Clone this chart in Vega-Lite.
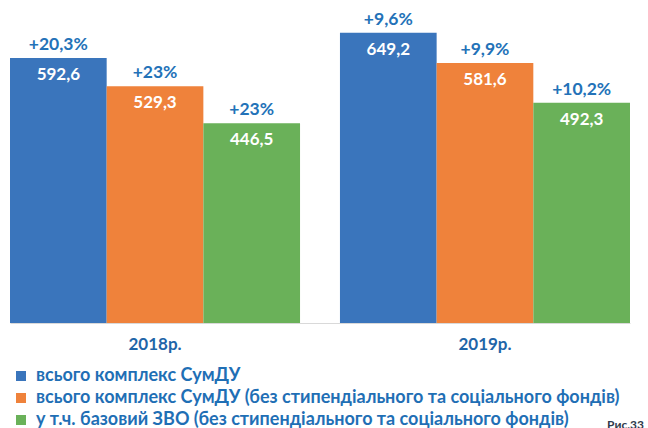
{
  "$schema": "https://vega.github.io/schema/vega-lite/v6.json",
  "width": 620,
  "height": 313,
  "autosize": {"type": "none"},
  "padding": {"left": 10, "top": 10, "right": 18, "bottom": 105},
  "background": "white",
  "config": {"view": {"stroke": null}, "font": "Lato"},
  "title": {"text": "Рис.33", "orient": "bottom", "anchor": "end", "fontSize": 12, "fontWeight": "bold", "color": "#2F3B4C", "offset": -9, "dx": 14, "font": "Lato"},
  "data": {"values": [
    {"year": "2018р.", "series": "всього комплекс СумДУ", "value": 592.6, "label": "592,6", "pct": "+20,3%"},
    {"year": "2018р.", "series": "всього комплекс СумДУ (без стипендіального та соціального фондів)", "value": 529.3, "label": "529,3", "pct": "+23%"},
    {"year": "2018р.", "series": "у т.ч. базовий ЗВО (без стипендіального та соціального фондів)", "value": 446.5, "label": "446,5", "pct": "+23%"},
    {"year": "2019р.", "series": "всього комплекс СумДУ", "value": 649.2, "label": "649,2", "pct": "+9,6%"},
    {"year": "2019р.", "series": "всього комплекс СумДУ (без стипендіального та соціального фондів)", "value": 581.6, "label": "581,6", "pct": "+9,9%"},
    {"year": "2019р.", "series": "у т.ч. базовий ЗВО (без стипендіального та соціального фондів)", "value": 492.3, "label": "492,3", "pct": "+10,2%"}
  ]},
  "encoding": {
    "x": {"field": "year", "type": "nominal", "title": null,
      "scale": {"paddingInner": 0.121, "paddingOuter": 0},
      "axis": {"domainColor": "#D9D9D9", "domainWidth": 1, "ticks": false, "labelAngle": 0, "labelFontSize": 17, "labelFontWeight": "bold", "labelColor": "#1F65A8", "labelPadding": 13}},
    "xOffset": {"field": "series", "type": "nominal",
      "scale": {"paddingInner": 0, "paddingOuter": 0, "domain": ["всього комплекс СумДУ", "всього комплекс СумДУ (без стипендіального та соціального фондів)", "у т.ч. базовий ЗВО (без стипендіального та соціального фондів)"]}},
    "y": {"field": "value", "type": "quantitative", "scale": {"domain": [0, 700]}, "axis": null}
  },
  "layer": [
    {"mark": {"type": "bar"},
     "encoding": {"color": {"field": "series", "type": "nominal", "title": null,
        "scale": {"domain": ["всього комплекс СумДУ", "всього комплекс СумДУ (без стипендіального та соціального фондів)", "у т.ч. базовий ЗВО (без стипендіального та соціального фондів)"], "range": ["#3A75BC", "#EF823B", "#6AB159"]},
        "legend": {"orient": "none", "legendX": 2, "legendY": 357, "symbolType": "square", "symbolSize": 100, "labelFontSize": 18, "labelFontWeight": "bold", "labelColor": "#1F6FB5", "labelLimit": 700, "labelOffset": 6, "rowPadding": 4, "symbolStrokeWidth": 0}}}},
    {"mark": {"type": "text", "dy": 17, "color": "white", "fontSize": 17, "fontWeight": "bold", "font": "Lato"},
     "encoding": {"text": {"field": "label"}}},
    {"mark": {"type": "text", "dy": -13, "color": "#2372B8", "fontSize": 17.5, "fontWeight": "bold", "font": "Lato"},
     "encoding": {"text": {"field": "pct"}}}
  ]
}
